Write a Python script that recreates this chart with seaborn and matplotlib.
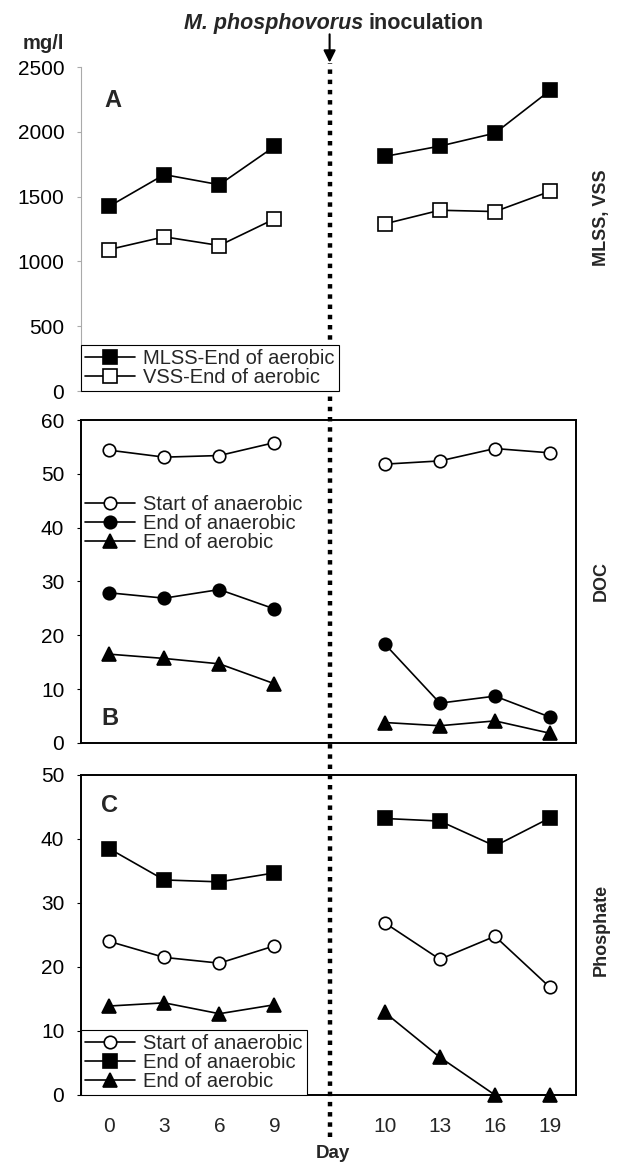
import numpy as np
import pandas as pd
import matplotlib
matplotlib.use("Agg")
import matplotlib.pyplot as plt
from matplotlib.lines import Line2D
import seaborn as sns

# ---------------- data ----------------
days = ["0", "3", "6", "9", "10", "13", "16", "19"]

mlss_end_aerobic = [1425, 1670, 1592, 1887, 1810, 1890, 1990, 2320]
vss_end_aerobic = [1092, 1190, 1123, 1328, 1290, 1395, 1385, 1541]

doc_start_anaerobic = [54.4, 53.1, 53.4, 55.8, 51.8, 52.4, 54.7, 53.9]
doc_end_anaerobic = [27.9, 26.9, 28.5, 24.9, 18.4, 7.4, 8.7, 4.8]
doc_end_aerobic = [16.5, 15.7, 14.7, 11.0, 3.8, 3.2, 4.1, 1.8]

p_start_anaerobic = [24.0, 21.5, 20.6, 23.3, 26.9, 21.2, 24.8, 16.8]
p_end_anaerobic = [38.5, 33.6, 33.3, 34.7, 43.2, 42.8, 38.9, 43.3]
p_end_aerobic = [13.9, 14.4, 12.7, 14.1, 12.9, 5.9, 0.0, 0.0]

labels_A = ["MLSS-End of aerobic", "VSS-End of aerobic"]
labels_BC = ["Start of anaerobic", "End of anaerobic", "End of aerobic"]

# ---------------- style ----------------
sns.set_theme(style="white")
plt.rcParams["font.family"] = ["Liberation Sans", "DejaVu Sans"]

fig = plt.figure(figsize=(6.18, 11.68), dpi=100)
left, width = 81 / 618, 495 / 618
axA = fig.add_axes([left, 0.6652, width, 0.2774])
axB = fig.add_axes([left, 0.3639, width, 0.2765])
axC = fig.add_axes([left, 0.0625, width, 0.2740])

# categorical positions with a gap after day 9
pos = [i + (1 if i >= 4 else 0) for i in range(len(days))]
seg = ["pre" if i < 4 else "post" for i in range(len(days))]


def draw(ax, values, marker, filled, ms, label):
    df = pd.DataFrame({"pos": pos, "val": values, "seg": seg})
    for s in ["pre", "post"]:
        sub = df[df["seg"] == s]
        sns.lineplot(data=sub, x="pos", y="val", ax=ax, color="black",
                     linewidth=1.2, marker=marker, markersize=ms,
                     markerfacecolor="black" if filled else "white",
                     markeredgecolor="black", markeredgewidth=1.2,
                     estimator=None, sort=True)
    handle = Line2D([], [], color="black", linewidth=1.2, marker=marker,
                    markersize=ms, markerfacecolor="black" if filled else "white",
                    markeredgecolor="black", markeredgewidth=1.2)
    return handle, label


# Panel A
hA = [draw(axA, mlss_end_aerobic, "s", True, 10, labels_A[0]),
      draw(axA, vss_end_aerobic, "s", False, 10, labels_A[1])]
# Panel B
hB = [draw(axB, doc_start_anaerobic, "o", False, 9, labels_BC[0]),
      draw(axB, doc_end_anaerobic, "o", True, 9, labels_BC[1]),
      draw(axB, doc_end_aerobic, "^", True, 10.5, labels_BC[2])]
# Panel C
hC = [draw(axC, p_start_anaerobic, "o", False, 9, labels_BC[0]),
      draw(axC, p_end_anaerobic, "s", True, 9.5, labels_BC[1]),
      draw(axC, p_end_aerobic, "^", True, 10.5, labels_BC[2])]

for ax in (axA, axB, axC):
    ax.set_xlim(-0.51, 8.47)
    ax.set_xlabel("")
    ax.set_ylabel("")
    ax.set_xticks(pos)
    ax.tick_params(axis="y", which="both", left=True, length=3, width=0.8,
                   pad=9, labelsize=15, colors="black")
    ax.tick_params(axis="x", length=0, pad=16, labelsize=15)
    ax.patch.set_alpha(0)
    for l in ax.lines:
        l.set_clip_on(False)

axA.set_ylim(0, 2500)
axA.set_yticks([0, 500, 1000, 1500, 2000, 2500])
axB.set_ylim(0, 60)
axB.set_yticks([0, 10, 20, 30, 40, 50, 60])
axC.set_ylim(0, 50)
axC.set_yticks([0, 10, 20, 30, 40, 50])

axA.set_xticklabels([])
axB.set_xticklabels([])
axC.set_xticklabels(days)

# spines
for sp in ["top", "right", "bottom"]:
    axA.spines[sp].set_visible(False)
axA.spines["left"].set_color("#aaaaaa")
axA.spines["left"].set_linewidth(0.8)
axA.tick_params(axis="y", color="#aaaaaa")
for ax in (axB, axC):
    for sp in ax.spines.values():
        sp.set_visible(True)
        sp.set_color("black")
        sp.set_linewidth(1.4)

# legends
leg_kw = dict(fontsize=14.5, handlelength=2.5, handletextpad=0.4,
              labelspacing=0.0, borderpad=0.2, borderaxespad=0.0,
              fancybox=False)
legA = axA.legend([h for h, _ in hA], [l for _, l in hA], loc="lower left",
                  bbox_to_anchor=(0, 0), frameon=True, framealpha=1, **leg_kw)
legA.get_frame().set_edgecolor("black")
legA.get_frame().set_facecolor("white")
legA.get_frame().set_linewidth(0.8)
legB = axB.legend([h for h, _ in hB], [l for _, l in hB], loc="upper left",
                  bbox_to_anchor=(0.0, 0.78), frameon=False, **leg_kw)
legC = axC.legend([h for h, _ in hC], [l for _, l in hC], loc="lower left",
                  bbox_to_anchor=(0, 0), frameon=True, framealpha=1, **leg_kw)
legC.get_frame().set_edgecolor("black")
legC.get_frame().set_facecolor("white")
legC.get_frame().set_linewidth(0.8)

# panel letters
axA.text(0.065, 0.898, "A", transform=axA.transAxes, fontsize=17,
         fontweight="bold", ha="center", va="center")
axB.text(0.058, 0.077, "B", transform=axB.transAxes, fontsize=17,
         fontweight="bold", ha="center", va="center")
axC.text(0.058, 0.906, "C", transform=axC.transAxes, fontsize=17,
         fontweight="bold", ha="center", va="center")

# right-side labels
fig.text(0.9725, 0.8134, "MLSS, VSS", rotation=90, fontsize=13,
         fontweight="bold", ha="center", va="center")
fig.text(0.9725, 0.5026, "DOC", rotation=90, fontsize=13,
         fontweight="bold", ha="center", va="center")
fig.text(0.9725, 0.2038, "Phosphate", rotation=90, fontsize=13,
         fontweight="bold", ha="center", va="center")

fig.text(0.070, 0.963, "mg/l", fontsize=14.5, fontweight="bold",
         ha="center", va="center")
fig.text(0.539, 0.0128, "Day", fontsize=13.5, fontweight="bold",
         ha="center", va="center")

# inoculation marker: dotted vertical line across all panels (behind axes
# content so the panel A legend interrupts it as in the original)
xd = axC.transData.transform((4, 0))[0]
xf = fig.transFigure.inverted().transform((xd, 0))[0]
fig.add_artist(Line2D([xf, xf], [0.0265, 0.946], transform=fig.transFigure,
                      color="black", linewidth=3.2,
                      linestyle=(0, (1.0, 1.3)), zorder=-1))
fig.text(0.588, 0.980, "M. phosphovorus", fontsize=15.5, fontweight="bold",
         fontstyle="italic", ha="right", va="center")
fig.text(0.597, 0.980, "inoculation", fontsize=15.5, fontweight="bold",
         ha="left", va="center")
fig.add_artist(matplotlib.patches.FancyArrowPatch(
    (xf, 0.973), (xf, 0.944), transform=fig.transFigure,
    arrowstyle="-|>", mutation_scale=18, color="black", linewidth=1.5))

fig.savefig("out.png", dpi=100)
